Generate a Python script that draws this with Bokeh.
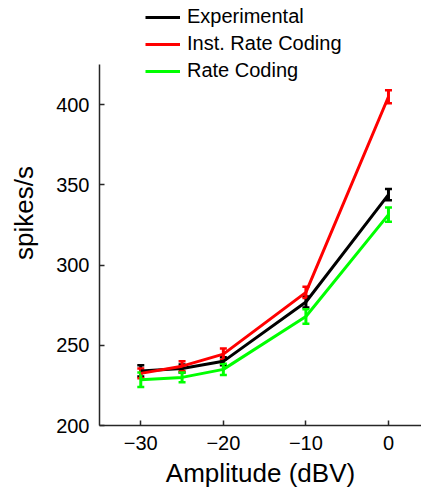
from bokeh.plotting import figure
from bokeh.models import Whisker, ColumnDataSource, Legend, LegendItem, FixedTicker, Range1d, TeeHead
from bokeh.embed import file_html
from bokeh.resources import INLINE

amplitude = [-30, -25, -20, -10, 0]
experimental = [234, 235.5, 240, 277, 344]
experimental_err = [3.5, 2.5, 2.5, 3.5, 3.5]
inst_rate = [232.5, 237, 244.5, 283, 405]
inst_rate_err = [3, 3, 3.5, 3.5, 4]
rate = [228.5, 230, 235, 268, 331.5]
rate_err = [4.5, 3, 3.5, 4.5, 4.5]

series_names = ["Experimental", "Inst. Rate Coding", "Rate Coding"]
series_colors = ["#000000", "#ff0000", "#00ff00"]
x_ticks = [-30, -20, -10, 0]
y_ticks = [200, 250, 300, 350, 400]
y_axis_bounds = (200, 425)

FONT = "Liberation Sans"
AX = "#262626"

p = figure(width=421, height=491, output_backend="svg", toolbar_location=None,
           x_range=Range1d(-35, 4), y_range=Range1d(200, 465),
           min_border_left=99, min_border_right=0, min_border_top=0, min_border_bottom=66)
p.outline_line_color = None
p.xgrid.visible = False
p.ygrid.visible = False
p.background_fill_color = None
p.border_fill_color = "white"

items = []
for name, col, vals, errs in zip(series_names, series_colors,
                                 [experimental, inst_rate, rate],
                                 [experimental_err, inst_rate_err, rate_err]):
    src = ColumnDataSource(dict(x=amplitude, y=vals,
                                lo=[v - e for v, e in zip(vals, errs)],
                                hi=[v + e for v, e in zip(vals, errs)]))
    r = p.line("x", "y", source=src, line_color=col, line_width=3)
    w = Whisker(base="x", lower="lo", upper="hi", source=src, line_color=col, line_width=3,
                upper_head=TeeHead(size=7, line_color=col, line_width=2.5),
                lower_head=TeeHead(size=7, line_color=col, line_width=2.5))
    p.add_layout(w)
    items.append(LegendItem(label=name, renderers=[r]))

legend = Legend(items=items, location=(46, 343), orientation="vertical",
                label_text_font=FONT, label_text_font_size="20px", label_text_color="#000000",
                glyph_width=35, glyph_height=20, label_height=20, spacing=4,
                label_standoff=7, padding=0, margin=0,
                border_line_alpha=0, background_fill_alpha=0)
p.add_layout(legend, "center")

for ax in (p.xaxis[0], p.yaxis[0]):
    ax.axis_line_color = AX
    ax.axis_line_width = 1.5
    ax.major_tick_line_color = AX
    ax.major_tick_line_width = 1.5
    ax.major_tick_in = 5
    ax.major_tick_out = 0
    ax.minor_tick_line_color = None
    ax.major_label_text_font = FONT
    ax.major_label_text_font_size = "20px"
    ax.major_label_text_color = "#000000"
    ax.axis_label_text_font = FONT
    ax.axis_label_text_font_size = "26px"
    ax.axis_label_text_font_style = "normal"
    ax.axis_label_text_color = "#000000"

p.yaxis.bounds = y_axis_bounds
p.xaxis.ticker = FixedTicker(ticks=x_ticks)
p.yaxis.ticker = FixedTicker(ticks=y_ticks)
p.xaxis.major_label_overrides = {t: (("\u2212" + str(-t)) if t < 0 else str(t)) for t in x_ticks}
p.xaxis.axis_label = "Amplitude (dBV)"
p.yaxis.axis_label = "spikes/s"
p.xaxis.major_label_standoff = 10
p.xaxis.axis_label_standoff = 5
p.yaxis.major_label_standoff = 10
p.yaxis.axis_label_standoff = 14

open("out.html", "w").write(file_html(p, INLINE))
